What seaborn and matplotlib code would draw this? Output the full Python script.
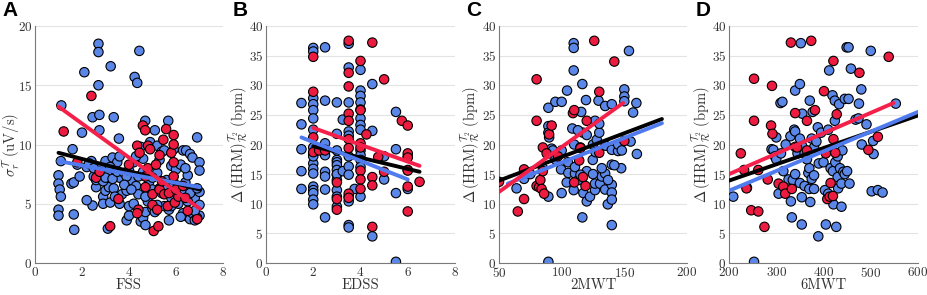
import numpy as np
import pandas as pd
import matplotlib
matplotlib.use("Agg")
import matplotlib.pyplot as plt
import seaborn as sns

# ---------------- data ----------------
# Panel A: FSS vs sigma
A_blue_x = [1.0, 1.0, 1.05, 1.1, 1.0, 1.0, 1.1, 1.12, 1.6, 1.55, 1.65, 1.65, 1.67, 1.9, 2.0, 2.1, 2.2, 2.4, 2.45,
            2.45, 2.5, 2.6, 2.7, 2.7, 2.7, 2.74, 2.74, 2.8, 2.8, 2.9, 2.9, 3.0, 3.0, 3.1, 3.1, 3.15, 3.2, 3.22,
            3.3, 3.35, 3.35, 3.4, 3.5, 3.57, 3.6, 3.6, 3.7, 3.9, 3.9, 4.0, 4.0, 4.1, 4.2, 4.24, 4.3, 4.35, 4.44,
            4.4, 4.5, 4.6, 4.6, 4.69, 4.7, 4.7, 4.8, 4.85, 4.9, 5.0, 5.0, 5.1, 5.1, 5.2, 5.2, 5.3, 5.4, 5.4, 5.5,
            5.5, 5.6, 5.67, 5.7, 5.7, 5.8, 5.9, 6.0, 6.0, 6.1, 6.2, 6.3, 6.3, 6.4, 6.43, 6.5, 6.5, 6.6, 6.6, 6.7,
            6.7, 6.8, 6.8, 6.9, 7.0, 7.0, 7.0, 7.0, 7.0, 6.9, 6.2, 5.8, 2.3, 2.5, 2.6, 2.9, 3.0, 3.2, 3.3, 3.5,
            3.8, 3.9, 4.0, 4.2, 4.4, 4.6, 4.8, 5.0, 5.3, 5.6, 5.9, 6.1, 6.3, 6.6, 6.9, 3.6, 4.5, 4.3, 5.5, 5.9, 6.4,
            1.8, 2.2, 3.4, 3.8, 4.1, 4.7, 5.2, 5.8, 6.5, 6.8]
A_blue_y = [7.4, 6.7, 6.2, 5.6, 4.5, 4.0, 8.6, 13.3, 9.6, 6.7, 6.8, 4.1, 2.8, 7.3, 11.0, 16.1, 8.1, 8.6, 12.3,
            4.85, 7.3, 6.4, 18.5, 17.8, 15.0, 12.5, 11.2, 8.0, 7.5, 5.6, 5.0, 6.1, 8.6, 2.9, 7.4, 6.4, 5.1, 16.6,
            8.9, 12.3, 6.3, 7.9, 8.5, 10.5, 5.0, 7.2, 5.8, 3.6, 6.1, 4.0, 4.8, 7.0, 5.0, 15.7, 6.5, 15.2, 17.9,
            5.8, 3.5, 3.8, 8.8, 12.0, 4.3, 3.2, 5.2, 6.8, 10.2, 6.2, 4.6, 11.2, 4.3, 9.9, 7.6, 8.7, 9.4, 5.9, 6.6,
            4.8, 7.0, 12.0, 3.6, 4.5, 8.2, 5.4, 6.0, 7.9, 5.0, 8.3, 9.5, 4.2, 6.8, 9.5, 7.4, 3.9, 9.2, 3.7, 8.9,
            4.2, 5.5, 3.6, 10.6, 8.5, 7.8, 6.0, 4.9, 4.0, 3.8, 3.9, 4.8, 8.4, 8.0, 7.0, 6.9, 7.2, 8.1, 7.1, 7.7,
            7.6, 7.3, 7.8, 8.5, 7.3, 7.7, 7.4, 7.2, 6.3, 6.2, 6.8, 6.5, 6.0, 5.9, 6.3, 9.0, 9.8, 9.0, 9.5, 9.6, 8.0,
            8.3, 5.3, 5.6, 6.6, 6.2, 5.6, 4.9, 5.5, 5.2, 4.4]
A_red_x = [1.22, 1.8, 2.4, 2.6, 2.75, 3.2, 3.55, 4.0, 4.35, 4.45, 4.4, 4.35, 4.59, 4.69, 4.7, 4.81, 4.8, 4.9,
           5.0, 5.0, 5.05, 5.15, 5.2, 5.25, 5.3, 5.3, 5.46, 5.5, 5.58, 5.65, 5.7, 5.8, 5.9, 5.9, 5.9, 5.9, 5.95,
           6.1, 6.0, 6.3, 6.5, 6.9, 6.4, 5.4, 4.7]
A_red_y = [11.1, 8.5, 14.1, 7.2, 7.7, 3.1, 5.4, 8.3, 9.9, 9.3, 4.5, 4.2, 11.6, 11.2, 6.4, 9.9, 8.0, 9.6,
           5.8, 4.9, 2.7, 8.3, 4.5, 3.1, 9.1, 6.2, 10.4, 5.8, 11.3, 4.8, 5.9, 9.3, 10.8, 10.0, 8.5, 7.3, 5.1,
           5.6, 6.2, 6.5, 4.4, 3.7, 5.5, 6.9, 7.3]

# Panel B: EDSS vs Delta HRM
B_blue_x = ([1.5] * 5 + [2.0] * 18 + [2.5] * 9 + [3.0] * 13 + [3.25] * 2 + [3.5] * 12 + [3.75] +
            [4.0] * 13 + [4.5] * 3 + [5.0] * 2 + [5.5] * 4 + [6.0] * 3)
B_blue_y = ([27.0, 23.4, 19.2, 15.5, 12.5] +
            [36.3, 35.7, 27.8, 26.8, 25.8, 24.4, 22.5, 18.5, 16.8, 15.9, 15.1, 12.9, 12.3, 11.8, 10.7, 9.9, 18.0, 19.5] +
            [36.4, 27.4, 20.2, 19.1, 18.2, 15.4, 14.6, 12.4, 7.7] +
            [27.1, 21.8, 17.4, 17.0, 16.5, 15.7, 14.9, 14.0, 12.3, 11.2, 9.5, 19.0, 15.0] +
            [24.2, 15.5] +
            [37.0, 33.0, 27.1, 22.2, 21.5, 18.0, 16.3, 14.9, 11.2, 10.4, 6.4, 6.0] +
            [12.5] +
            [29.1, 28.2, 27.1, 25.9, 24.4, 23.3, 22.5, 19.0, 18.2, 17.4, 16.2, 11.2, 32.6] +
            [30.2, 22.3, 4.5] +
            [14.1, 18.0] +
            [25.5, 19.2, 11.8, 0.2] +
            [15.7, 12.5, 18.0])
B_red_x = [2.0, 2.0, 2.0, 2.0, 2.25, 2.5, 3.0, 3.0, 3.0, 3.5, 3.5, 3.5, 3.5, 3.5, 3.5, 3.5, 3.5, 3.5,
           4.0, 4.0, 4.0, 4.0, 4.0, 4.0, 4.0, 4.25, 4.5, 4.5, 4.5, 4.5, 4.75, 5.0, 5.0, 5.75, 6.0, 6.0,
           6.0, 6.0, 6.0, 6.0, 6.5]
B_red_y = [34.8, 28.9, 21.2, 18.7, 19.0, 19.0, 13.6, 10.8, 9.0, 37.5, 32.1, 29.8, 25.2, 24.0, 20.9, 19.4,
           11.7, 11.0, 34.1, 25.8, 20.2, 19.5, 15.6, 14.1, 12.5, 21.7, 37.2, 14.5, 13.1, 6.1, 17.9, 31.0,
           15.4, 24.0, 23.2, 18.5, 17.8, 15.6, 12.9, 8.7, 13.7]

# Panel C: 2MWT vs Delta HRM
C_blue_x = [64, 70, 75, 85, 89.4, 89.4, 89.4, 90, 90, 89.4, 89.4, 92, 93, 95, 95, 100, 100, 100, 99.5, 104.3,
            104, 105, 105.3, 108.5, 109.6, 109.6, 109.6, 109.6, 110, 110.6, 110.6, 113.3, 115, 115.6, 116.5,
            116.5, 117, 117.3, 119.4, 120, 120, 122.6, 124.8, 125, 126.6, 126.6, 126.6, 127, 128, 129.4, 130,
            130, 130.6, 132, 134.7, 134.7, 134.7, 135, 136.8, 140, 140, 140, 140, 140, 140, 140, 145, 145,
            147.5, 148, 150, 150, 150, 153.7, 155, 157, 159.6, 160, 120, 113, 115, 125, 132, 137, 142]
C_blue_y = [12.6, 14.2, 15.0, 16.0, 26.2, 23.1, 22.0, 21.2, 18.5, 11.2, 0.2, 19.3, 19.0, 27.2, 17.5, 27.2,
            19.0, 11.8, 15.8, 29.1, 13.6, 17.0, 15.2, 22.7, 37.1, 36.3, 32.5, 12.3, 20.0, 15.1, 16.2, 14.0,
            19.5, 25.5, 30.2, 7.7, 22.0, 11.8, 27.5, 21.6, 10.4, 11.2, 17.4, 20.0, 24.0, 12.3, 13.4, 18.7,
            20.8, 27.4, 22.0, 23.5, 13.4, 14.6, 26.5, 15.1, 12.4, 19.8, 9.9, 26.8, 19.1, 16.6, 13.2, 11.9,
            10.7, 6.4, 18.9, 20.0, 16.0, 19.0, 29.3, 28.1, 27.3, 35.8, 20.5, 25.4, 27.0, 18.4, 15.5, 22.4,
            14.9, 15.0, 16.0, 14.0, 16.5]
C_red_x = [50, 65, 70, 70, 80, 80, 80, 82, 83, 84, 85, 85, 86, 88, 90, 92, 97, 109, 110, 110, 114, 117,
           119, 120, 115, 126, 130, 130, 142, 150]
C_red_y = [13.7, 8.7, 10.8, 15.8, 31.0, 24.0, 13.0, 12.8, 14.0, 12.5, 19.5, 15.5, 11.7, 18.5, 21.7, 23.2,
           18.0, 25.3, 25.8, 13.6, 17.3, 14.5, 13.0, 24.0, 19.4, 37.5, 28.9, 18.6, 34.0, 20.6]

# Panel D: 6MWT vs Delta HRM
D_blue_x = [209, 253, 238, 290, 294, 297, 300, 300, 305, 309, 313, 310, 315, 320, 326, 330, 331, 333, 335, 338,
            340, 340, 340, 345, 350, 350, 350, 352, 354, 354, 355, 355, 360, 360, 365, 368, 370, 370, 371, 372,
            375, 375, 377, 380, 380, 380, 385, 388, 389, 390, 395, 400, 403, 405, 405, 410, 410, 412, 415, 419,
            420, 421, 424, 424, 425, 427, 430, 430, 431, 433, 435, 438, 438, 440, 442, 445, 445, 449, 450, 453,
            453, 455, 458, 468, 474, 475, 480, 481, 491, 500, 502, 505, 506, 515, 525, 553]
D_blue_y = [11.2, 0.2, 12.7, 19.2, 19.1, 18.0, 17.5, 21.2, 11.7, 27.0, 27.2, 18.5, 15.5, 20.0, 14.1, 21.4,
            10.4, 7.7, 14.0, 22.5, 29.1, 15.0, 22.2, 18.5, 21.0, 30.2, 13.5, 37.1, 11.1, 6.5, 19.7, 25.2,
            18.5, 13.0, 17.5, 15.2, 16.0, 12.5, 27.4, 10.3, 21.0, 14.2, 25.5, 19.5, 14.8, 12.5, 20.5, 22.9,
            4.5, 16.8, 22.0, 17.0, 12.3, 18.8, 6.5, 22.5, 11.7, 32.5, 16.0, 28.3, 15.5, 9.9, 27.4, 24.0, 17.0,
            6.1, 18.0, 14.5, 12.6, 26.8, 16.0, 9.5, 13.4, 19.0, 15.4, 15.0, 27.7, 36.4, 15.5, 27.7, 36.4, 13.4,
            32.8, 24.2, 24.4, 26.9, 29.3, 20.0, 23.4, 35.8, 12.1, 20.6, 18.4, 12.3, 11.9, 26.9]
D_red_x = [225, 232, 237, 247, 253, 253, 262, 262, 275, 282, 289, 291, 292, 305, 315, 319, 331, 333, 340, 340,
           344, 365, 365, 374, 382, 401, 405, 408, 413, 415, 420, 421, 421, 425, 428, 476, 495, 515, 538]
D_red_y = [18.5, 15.7, 12.6, 8.9, 31.1, 24.0, 8.7, 15.7, 6.1, 14.1, 23.2, 29.9, 21.8, 13.4, 12.9, 11.7, 37.2,
           12.5, 25.3, 19.6, 19.5, 24.0, 19.0, 37.5, 25.8, 29.0, 18.5, 10.8, 11.2, 13.5, 11.3, 34.1, 20.9, 18.6,
           25.1, 32.1, 19.1, 21.3, 34.8]

# regression lines (start x, start y, end x, end y) for all / group 1 / group 2
fit_groups = ["all", "g1", "g2"]
A_fit_x0 = [1.0, 1.0, 1.0]; A_fit_y0 = [9.3, 8.6, 13.2]; A_fit_x1 = [7.0, 7.0, 7.0]; A_fit_y1 = [6.2, 6.4, 4.6]
B_fit_x0 = [2.0, 1.5, 2.0]; B_fit_y0 = [19.7, 21.2, 22.8]; B_fit_x1 = [6.5, 6.0, 6.5]; B_fit_y1 = [15.4, 14.1, 16.4]
C_fit_x0 = [50, 57, 50]; C_fit_y0 = [13.9, 13.4, 12.0]; C_fit_x1 = [180, 180, 149]; C_fit_y1 = [24.3, 23.6, 27.0]
D_fit_x0 = [200, 200, 200]; D_fit_y0 = [13.9, 12.2, 15.0]; D_fit_x1 = [600, 600, 548]; D_fit_y1 = [24.9, 25.5, 27.0]

letters = ["A", "B", "C", "D"]
xlabels = ["FSS", "EDSS", "2MWT", "6MWT"]
hrm_label = r"$\Delta\,(\mathrm{HRM})^{\mathcal{T}_2}_{\mathcal{R}}\ (\mathrm{bpm})$"
ylabels = [r"$\sigma_r^{\mathcal{T}}\ (\mathrm{uV/s})$", hrm_label, hrm_label, hrm_label]
xlims = [(0, 8), (0, 8), (50, 200), (200, 600)]
xticks = [[0, 2, 4, 6, 8], [0, 2, 4, 6, 8], [50, 100, 150, 200], [200, 300, 400, 500, 600]]
ylims = [(0, 20), (0, 40), (0, 40), (0, 40)]
yticks = [[0, 5, 10, 15, 20], list(range(0, 41, 5)), list(range(0, 41, 5)), list(range(0, 41, 5))]

# ---------------- style ----------------
sns.set_theme(style="white")
plt.rcParams.update({
    "font.family": ["cmr10", "DejaVu Sans"],
    "mathtext.fontset": "cm",
    "axes.formatter.use_mathtext": True,
    "axes.unicode_minus": False,
})

BLUE = "#5A87E8"
RED = "#EE1B40"
LINE_COLORS = {"all": "#000000", "g1": "#4F7BEF", "g2": "#F5204A"}

fig = plt.figure(figsize=(9.27, 2.95), dpi=100)
lefts = [35, 266, 499, 729]
rights = [223, 455, 687, 918]
ylabel_px = [11, 238, 470, 701]
top_px, bot_px = 26, 263
W, H = 927, 295

panels = [
    (A_blue_x, A_blue_y, A_red_x, A_red_y, A_fit_x0, A_fit_y0, A_fit_x1, A_fit_y1),
    (B_blue_x, B_blue_y, B_red_x, B_red_y, B_fit_x0, B_fit_y0, B_fit_x1, B_fit_y1),
    (C_blue_x, C_blue_y, C_red_x, C_red_y, C_fit_x0, C_fit_y0, C_fit_x1, C_fit_y1),
    (D_blue_x, D_blue_y, D_red_x, D_red_y, D_fit_x0, D_fit_y0, D_fit_x1, D_fit_y1),
]

for i, (bx, by, rx, ry, fx0, fy0, fx1, fy1) in enumerate(panels):
    wpx = rights[i] - lefts[i]
    hpx = bot_px - top_px
    ax = fig.add_axes([lefts[i] / W, 1 - bot_px / H, wpx / W, hpx / H])
    pts = pd.DataFrame({
        "x": list(bx) + list(rx),
        "y": list(by) + list(ry),
        "group": ["g1"] * len(bx) + ["g2"] * len(rx),
    })
    sns.scatterplot(data=pts, x="x", y="y", hue="group", palette={"g1": BLUE, "g2": RED},
                    s=46, edgecolor="black", linewidth=0.8, legend=False, ax=ax, zorder=3)
    fits = pd.DataFrame({
        "x": list(fx0) + list(fx1),
        "y": list(fy0) + list(fy1),
        "line": fit_groups + fit_groups,
    })
    for g in fit_groups:
        sns.lineplot(data=fits[fits["line"] == g], x="x", y="y", color=LINE_COLORS[g],
                     linewidth=2.8, ax=ax, zorder=4, legend=False)
    ax.set_xlim(*xlims[i])
    ax.set_ylim(*ylims[i])
    ax.set_xticks(xticks[i])
    ax.set_yticks(yticks[i])
    ax.grid(axis="y", color="#e3e3e3", linewidth=0.8, zorder=0)
    ax.set_axisbelow(True)
    for s in ["top", "right"]:
        ax.spines[s].set_visible(False)
    for s in ["left", "bottom"]:
        ax.spines[s].set_color("#7a7a7a")
        ax.spines[s].set_linewidth(0.8)
    ax.tick_params(axis="both", direction="in", length=3, width=0.6, color="#7a7a7a",
                   labelsize=9.5, labelcolor="#333333", pad=2)
    ax.set_xlabel(xlabels[i], fontsize=10.5, color="#333333")
    ax.set_ylabel(ylabels[i], fontsize=10.5, color="#333333")
    ax.xaxis.set_label_coords(0.5, -22.5 / hpx)
    ax.yaxis.set_label_coords((ylabel_px[i] - lefts[i]) / wpx, 0.5)
    ax.yaxis.label.set_va("center")
    ax.xaxis.label.set_va("center")
    fig.text((lefts[i] - 33) / W, 1 - 11 / H, letters[i], fontsize=15, fontweight="bold",
             family="Liberation Sans", ha="left", va="center", color="black")

fig.savefig("out.png", dpi=100)
